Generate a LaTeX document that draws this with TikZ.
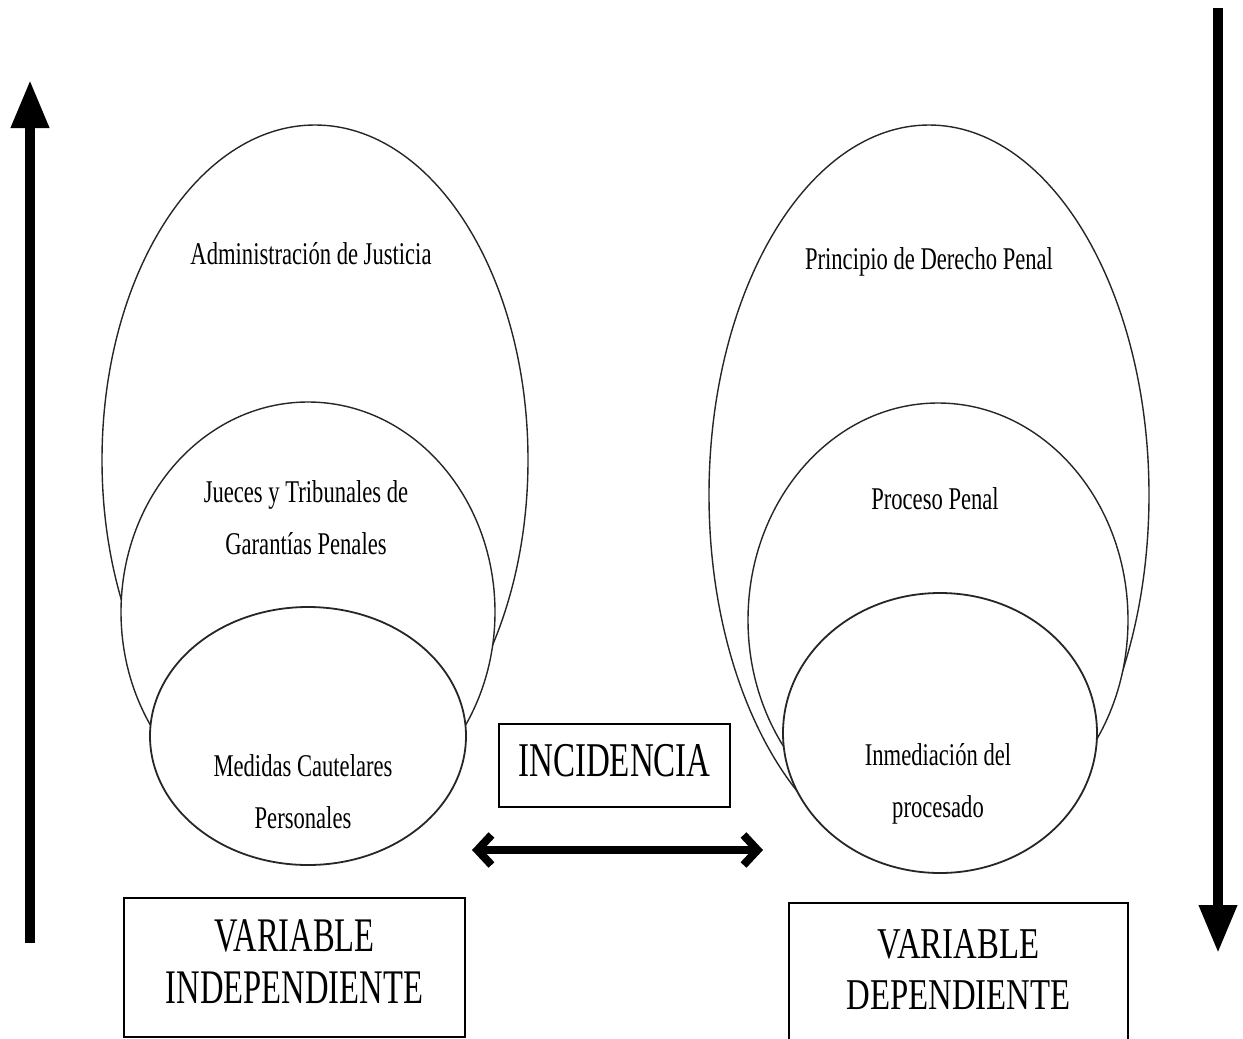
\documentclass[tikz,border=0pt]{standalone}
\usepackage{fontspec}
\setmainfont{Liberation Serif}
\usepackage{graphicx}
\usetikzlibrary{positioning,shapes.geometric,arrows.meta}

\newcommand{\tallt}[2][1.4]{\scalebox{1}[#1]{\begin{tabular}{@{}c@{}}#2\end{tabular}}}

\tikzset{
  oval/.style={ellipse, draw=black!85, line width=0.7pt, fill=white, inner sep=0pt},
  lbl/.style={font=\fontsize{11.3}{18.6}\selectfont, inner sep=0pt},
  varbox/.style={draw, line width=1pt, inner sep=0pt},
  bigarrow/.style={line width=5pt, -{Triangle[length=24pt,width=18pt]}},
}

\begin{document}
\begin{tikzpicture}[x=0.5pt,y=-0.5pt]
	\useasboundingbox (0,0) rectangle (1243,1039);
	\clip (0,0) rectangle (1243,1039);
	
	% left side
	\node[oval, minimum width=213pt, minimum height=335pt] (adm) at (315,460) {};
	\node[oval, minimum width=187pt, minimum height=210pt] (jue) at (308,612) {};
	\node[oval, line width=0.9pt, minimum width=158pt, minimum height=129pt] (med) at (308,736) {};
	\node[lbl, shift={(-4,130)}] (admt) at (adm.north) {\tallt{Administración de Justicia}};
	\node[lbl, shift={(-2,117)}] (juet) at (jue.north) {\tallt{Jueces y Tribunales de\\Garantías Penales}};
	\node[lbl, shift={(-5,186)}] (medt) at (med.north) {\tallt{Medidas Cautelares\\Personales}};
	
	% right side
	\node[oval, minimum width=220pt, minimum height=370pt] (pri) at (929,495) {};
	\node[oval, minimum width=190pt, minimum height=217pt] (pro) at (938,620) {};
	\node[oval, line width=0.9pt, minimum width=157pt, minimum height=140pt] (inm) at (940,733) {};
	\node[lbl, shift={(0,135)}] (prit) at (pri.north) {\tallt{Principio de Derecho Penal}};
	\node[lbl, shift={(-3,97)}] (prot) at (pro.north) {\tallt{Proceso Penal}};
	\node[lbl, shift={(-2,189)}] (inmt) at (inm.north) {\tallt{Inmediación del\\procesado}};
	
	% boxes
	\node[varbox, minimum width=115.5pt, minimum height=41.5pt, font=\fontsize{16.5}{18}\selectfont] (inc) at (614.5,765.5) {\tallt[1.47]{INCIDENCIA}};
	\node[varbox, minimum width=170.5pt, minimum height=69.5pt, font=\fontsize{16.3}{17.6}\selectfont] (vind) at (294.5,967.5) {\tallt[1.48]{VARIABLE\\INDEPENDIENTE}};
	\node[varbox, minimum width=169.5pt, minimum height=71pt, font=\fontsize{16.4}{18.7}\selectfont] (vdep) at (958.5,974) {\tallt[1.34]{VARIABLE\\DEPENDIENTE}};
	
	% arrows
	\coordinate (upfoot) at (30,943);
	\coordinate (uphead) at (30,80);
	\coordinate (downtop) at (1218,8);
	\coordinate (downtip) at (1218,953);
	\coordinate (incl) at (472,850);
	\coordinate (incr) at (763,850);
	\draw[bigarrow] (upfoot) -- (uphead);
	\draw[bigarrow] (downtop) -- (downtip);
	\draw[line width=4pt, {Straight Barb[length=7pt,width=15pt]}-{Straight Barb[length=7pt,width=15pt]}] (incl) -- (incr);
\end{tikzpicture}
\end{document}
